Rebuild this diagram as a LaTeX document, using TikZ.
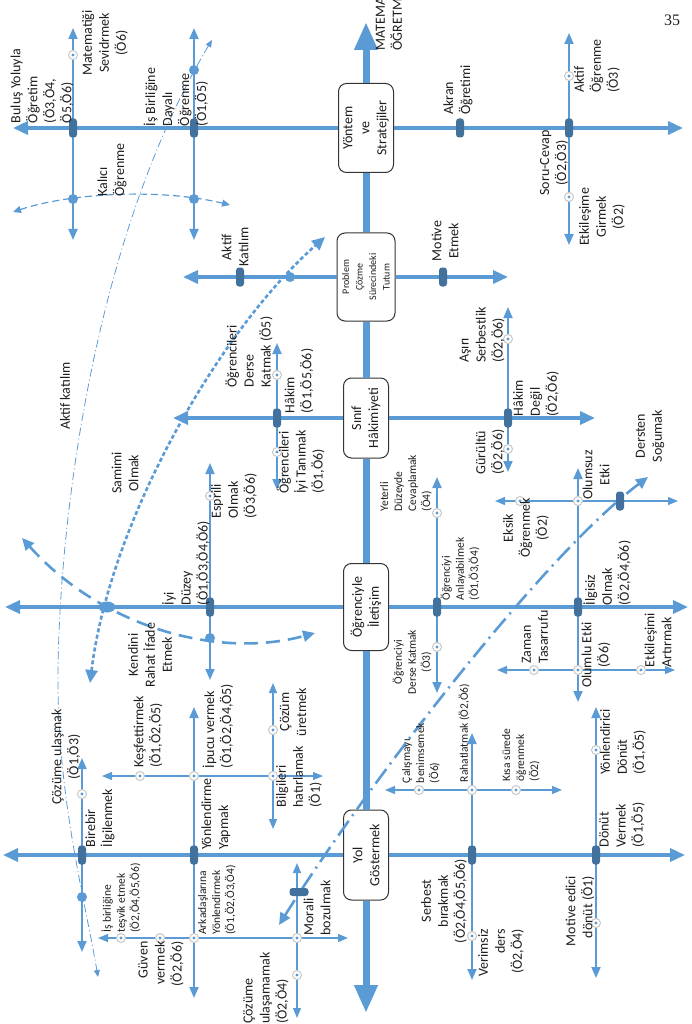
\documentclass[tikz,border=0pt]{standalone}
\usepackage{fontspec}
\setmainfont{Carlito}
\newfontfamily\pagenumfont{Liberation Serif}
\usetikzlibrary{arrows.meta,shapes.geometric}
\definecolor{MBLUE}{RGB}{91,155,213}
\definecolor{TICKC}{RGB}{65,113,156}
\definecolor{TXT}{RGB}{30,30,30}
\definecolor{RING}{RGB}{200,200,200}
\tikzset{
SPINE/.style={draw=MBLUE,line width=7pt,-{Triangle[length=28pt,width=22pt]}},
BR/.style={draw=MBLUE,line width=3.4pt,-{Triangle[length=15pt,width=13pt]}},
SUB/.style={draw=MBLUE,line width=1.8pt,{Triangle[length=11pt,width=9pt]}-{Triangle[length=11pt,width=9pt]}},
SUBB/.style={draw=MBLUE,line width=1.3pt,{Triangle[length=10pt,width=8pt]}-{Triangle[length=10pt,width=8pt]}},
CURA/.style={draw=MBLUE,line width=1.2pt,dash pattern=on 7pt off 4pt,{Triangle[length=8pt,width=7pt]}-{Triangle[length=8pt,width=7pt]}},
CURB/.style={draw=MBLUE,line width=0.8pt,dash pattern=on 8pt off 3pt on 1pt off 3pt,{Triangle[length=7pt,width=6pt]}-{Triangle[length=7pt,width=6pt]}},
CURC/.style={draw=MBLUE,line width=2.6pt,dash pattern=on 4pt off 2.5pt,{Triangle[length=13pt,width=12pt]}-{Triangle[length=13pt,width=12pt]}},
CURD/.style={draw=MBLUE,line width=2.6pt,dash pattern=on 14pt off 8pt,{Triangle[length=12pt,width=11pt]}-{Triangle[length=12pt,width=11pt]}},
CURE/.style={draw=MBLUE,line width=2.6pt,dash pattern=on 18pt off 6pt on 2pt off 6pt,{Triangle[length=12pt,width=11pt]}-{Triangle[length=12pt,width=11pt]}},
BOX/.style={rotate=90,draw=black!80,fill=white,rounded corners=8pt,line width=1pt,align=center,text=TXT,font=\fontsize{14}{17}\selectfont,inner sep=2pt},
TICKV/.style={fill=TICKC,rounded corners=3pt,minimum width=8pt,minimum height=19pt,inner sep=0pt},
TICKH/.style={TICKV,minimum width=19pt,minimum height=8pt},
CDOT/.style={circle,draw=RING,line width=1pt,fill=white,minimum size=9pt,inner sep=0pt,path picture={\fill[MBLUE] (path picture bounding box.center) circle (1.7pt);}},
FDOT/.style={circle,fill=MBLUE,minimum size=10pt,inner sep=0pt},
LBL/.style={rotate=90,text=TXT,inner sep=0pt,align=left,font=\fontsize{14}{17}\selectfont},
LBLS/.style={LBL,font=\fontsize{11.5}{14}\selectfont},
}
\begin{document}
\begin{tikzpicture}[x=1pt,y=-1pt]
	\useasboundingbox (0,0) rectangle (691,1024);
	% points
	\foreach \n/\x/\y in {topT/366/22,botT/366/1013,
		aL/13/128,aR/683/128,a1/73/128,a1U/73/28,a1D/73/240,a1m/73/55,a1k/73/199,
		a2/194/128,a2U/194/28,a2D/194/240,a2a/194/70,a2k/194/199,
		a3/460/128,a4/569/128,a4U/569/33,a4D/569/245,a4a/569/76,a4e/569/197,
		bL/183/277,bR/508/277,b1/240/277,b2/290/277,b3/443/277,
		cL/173/418,cR/595/418,c1/277/418,c1U/277/343,c1D/277/490,c1a/277/375,c1b/277/452,
		c2/508/418,c2U/508/307,c2D/508/472,c2a/508/339,c2b/508/449,
		dL/5/607,dR/688/607,d0/107/607,d1/210/607,d1U/210/463,d1D/210/680,d1a/210/496,d1b/210/638,
		d2/437/607,d2U/437/477,d2D/437/693,d2a/437/513,d2b/437/647,
		d3/578/607,d3U/578/468,d3D/578/702,d3a/578/501,d3b/578/670,
		eL/495/501,eR/678/501,e1/520/501,e2/620/501,
		fL/497/670,fR/675/670,f1/534/670,f2/641/670,
		gL/3/855,gR/685/855,g1/82/855,g1U/82/758,g1D/82/952,g1a/82/794,g1b/82/897,
		g2/194/855,g2U/194/707,g2D/194/998,
		h/194/776,hL/102/776,hR/323/776,h1/140/776,h2/273/776,h2U/273/683,h2D/273/829,h2a/273/730,
		i/194/938,iL/98/938,iR/348/938,i1/121/938,i2/160/938,i3/297/938,i3U/297/863,i3D/297/1018,i3a/297/975,i3t/299/892,
		g3/472/855,g3U/472/733,g3D/472/980,g3a/472/936,j/472/790,jL/385/790,jR/562/790,j1/419/790,j2/516/790,
		g4/596/855,g4U/596/707,g4D/596/978,g4a/596/750,g4b/596/923,
		kA1/13/212,kA2/230/205,kB1/212/40,kBm/58/680,kB2/98/977,kC1/90/683,kC2/325/237,
		kD1/22/538,kD2/315/633,kE1/279/925,kE2/648/477}
		\coordinate (\n) at (\x,\y);
	% boxes on the spine
	\node[BOX,minimum width=89pt,minimum height=55pt] (yon) at (366,128) {Yöntem\\ve\\Stratejiler};
	\node[BOX,minimum width=88pt,minimum height=58pt,font=\fontsize{10}{13.5}\selectfont] (prob) at (366,277) {Problem\\Çözme\\Sürecindeki\\Tutum};
	\node[BOX,minimum width=80pt,minimum height=45pt] (sinif) at (366,418) {Sınıf\\Hâkimiyeti};
	\node[BOX,minimum width=87pt,minimum height=45pt] (ilet) at (366,607) {Öğrenciyle\\İletişim};
	\node[BOX,minimum width=90pt,minimum height=45pt] (yol) at (366,855) {Yol\\Göstermek};
	\draw[SPINE] (yon) -- (topT);
	\draw[SPINE] (yol) -- (botT);
	\draw[SPINE,-] (yon) -- (prob) (prob) -- (sinif) (sinif) -- (ilet) (ilet) -- (yol);
	% branches
	\foreach \b/\l/\r in {yon/aL/aR,prob/bL/bR,sinif/cL/cR,ilet/dL/dR,yol/gL/gR}{
		\draw[BR] (\b) -- (\l);
		\draw[BR] (\b) -- (\r);
	}
	\foreach \u/\d in {a1U/a1D,a2U/a2D,a4U/a4D,c1U/c1D,c2U/c2D,d1U/d1D,d2U/d2D,d3U/d3D,g1U/g1D,g2U/g2D,g3U/g3D,g4U/g4D}
		\draw[SUB] (\u) -- (\d);
	\foreach \u/\d in {eL/eR,fL/fR,hL/hR,h2U/h2D,iL/iR,i3U/i3D,jL/jR}
		\draw[SUBB] (\u) -- (\d);
	% crossing curves
	\draw[CURA] (kA1) .. controls (70,193) and (160,188) .. (kA2);
	\draw[CURB] (kB1) .. controls (92,240) and (58,530) .. (kBm) .. controls (58,800) and (85,900) .. (kB2);
	\draw[CURC] (kC1) .. controls (110,520) and (220,330) .. (kC2);
	\draw[CURD] (kD1) .. controls (100,625) and (215,660) .. (kD2);
	\draw[CURE] (kE1) .. controls (359,797) and (538,560) .. (kE2);
	% marks
	\foreach \n in {a1,a2,a3,a4,b1,b3,c1,c2,d1,d2,d3,e2,g1,g2,g3,g4}
		\node[TICKV] (t\n) at (\n) {};
	\node[TICKH] (ti3t) at (i3t) {};
	\foreach \n in {a1m,a4a,a4e,c1a,c1b,c2a,c2b,d1a,d2a,d2b,d3a,d3b,e1,f1,f2,g1a,h,h1,h2,h2a,i,i1,i2,i3,i3a,j,j1,j2,g3a,g4a,g4b}
		\node[CDOT] (o\n) at (\n) {};
	\foreach \n in {a1k,a2a,a2k,b2,d1b,g1b}
		\node[FDOT] (f\n) at (\n) {};
	\node[FDOT,ellipse,minimum width=17pt,minimum height=11pt] (fd0) at (d0) {};
	% labels
	\node[LBL] (lBulus) at (42,86) {Buluş Yoluyla\\Öğretim\\(Ö3,Ö4,\\Ö5,Ö6)};
	\node[LBL,align=center] (lSevdir) at (105,43) {Matematiği\\Sevidrmek\\(Ö6)};
	\node[LBL] (lIsBir) at (176,97) {İş Birliğine\\Dayalı\\Öğrenme\\(Ö1,Ö5)};
	\node[LBL] (lKalici) at (112,170) {Kalıcı\\Öğrenme};
	\node[LBL] (lAkran) at (458,90) {Akran\\Öğretimi};
	\node[LBL] (lAktifO) at (597,66) {Aktif\\Öğrenme\\(Ö3)};
	\node[LBL,align=center] (lSoru) at (554,163) {Soru-Cevap\\(Ö2,Ö3)};
	\node[LBL,align=center] (lEtkG) at (602,217) {Etkileşime\\Girmek\\(Ö2)};
	\node[LBL,align=center] (lAktifK) at (235,247) {Aktif\\Katılım};
	\node[LBL,align=center] (lMotive) at (445,241) {Motive\\Etmek};
	\node[LBL] (lDerseK) at (249,352) {Öğrencileri\\Derse\\Katmak (Ö5)};
	\node[LBL] (lHakim) at (299,381) {Hâkim\\(Ö1,Ö5,Ö6)};
	\node[LBL] (lTanimak) at (301,462) {Öğrencileri\\İyi Tanımak\\(Ö1,Ö6)};
	\node[LBL] (lAsiri) at (482,335) {Aşırı\\Serbestlik\\(Ö2,Ö6)};
	\node[LBL] (lHakimD) at (536,394) {Hâkim\\Değil\\(Ö2,Ö6)};
	\node[LBL] (lGurultu) at (490,452) {Gürültü\\(Ö2,Ö6)};
	\node[LBL,align=center] (lSamimi) at (125,473) {Samimi\\Olmak};
	\node[LBL] (lIyi) at (186,563) {İyi\\Düzey\\(Ö1,Ö3,Ö4,Ö6)};
	\node[LBL] (lEsprili) at (234,496) {Esprili\\Olmak\\(Ö3,Ö6)};
	\node[LBL,align=center] (lKendini) at (150,655) {Kendini\\Rahat İfade\\Etmek};
	\node[LBLS] (lYeterli) at (406,483) {Yeterli\\Düzeyde\\Cevaplamak\\(Ö4)};
	\node[LBLS] (lAnlay) at (460,569) {Öğrenciyi\\Anlayabilmek\\(Ö1,Ö3,Ö4)};
	\node[LBLS,align=center] (lDerseK2) at (412,662) {Öğrenciyi\\Derse Katmak\\(Ö3)};
	\node[LBL,align=center] (lEksik) at (526,528) {Eksik\\Öğrenmek\\(Ö2)};
	\node[LBL,align=center] (lOlumsuz) at (596,475) {Olumsuz\\Etki};
	\node[LBL,align=center] (lSogumak) at (650,436) {Dersten\\Soğumak};
	\node[LBL] (lIlgisiz) at (607,573) {İlgisiz\\Olmak\\(Ö2,Ö4,Ö6)};
	\node[LBL] (lZaman) at (535,637) {Zaman\\Tasarrufu};
	\node[LBL,align=center] (lOlumlu) at (596,655) {Olumlu Etki\\(Ö6)};
	\node[LBL] (lEtkA) at (658,640) {Etkileşimi\\Artırmak};
	\node[LBL,align=center] (lUlasmak) at (66,757) {Çözüme ulaşmak\\(Ö1,Ö3)};
	\node[LBL] (lBirebir) at (100,818) {Birebir\\İlgilenmek};
	\node[LBL] (lKesfet) at (148,732) {Keşfettirmek\\(Ö1,Ö2,Ö5)};
	\node[LBL] (lIpucu) at (218,726) {İpucu vermek\\(Ö1,Ö2,Ö4,Ö5)};
	\node[LBL,align=center] (lUret) at (293,712) {Çözüm\\üretmek};
	\node[LBL] (lBilgi) at (299,777) {Bilgileri\\hatırlamak\\(Ö1)};
	\node[LBL] (lYonlend) at (216,814) {Yönlendirme\\Yapmak};
	\node[LBLS] (lTesvik) at (121,898) {İş birliğine\\teşvik etmek\\(Ö2,Ö4,Ö5,Ö6)};
	\node[LBL,align=right] (lGuven) at (161,964) {Güven\\vermek\\(Ö2,Ö6)};
	\node[LBLS] (lArkadas) at (217,900) {Arkadaşlarına\\Yönlendirmek\\(Ö1,Ö2,Ö3,Ö4)};
	\node[LBL] (lMorali) at (317,908) {Morali\\bozulmak};
	\node[LBL] (lUlasama) at (266,988) {Çözüme\\ulaşamamak\\(Ö2,Ö4)};
	\node[LBLS] (lCalisma) at (421,753) {Çalışmayı\\benimsemek\\(Ö6)};
	\node[LBLS] (lRahat) at (464,733) {Rahatlatmak (Ö2,Ö6)};
	\node[LBLS] (lKisa) at (521,755) {Kısa sürede\\öğrenmek\\(Ö2)};
	\node[LBL,align=center] (lSerbest) at (444,901) {Serbest\\bırakmak\\(Ö2,Ö4,Ö5,Ö6)};
	\node[LBL,align=right] (lVerimsiz) at (501,953) {Verimsiz\\ders\\(Ö2,Ö4)};
	\node[LBL] (lDonut) at (622,825) {Dönüt\\Vermek\\(Ö1,Ö5)};
	\node[LBL] (lYonDonut) at (623,742) {Yönlendirici\\Dönüt\\(Ö1,Ö5)};
	\node[LBL,align=right] (lMotDonut) at (580,911) {Motive edici\\dönüt (Ö1)};
	\node[LBL] (lAktifKat) at (65,396) {Aktif katılım};
	\node[LBL] (lMat) at (389,24) {MATEMA\\ÖĞRETM};
	\node[font=\pagenumfont\fontsize{16}{18}\selectfont,text=TXT] (lPage) at (672,20) {35};
\end{tikzpicture}
\end{document}
